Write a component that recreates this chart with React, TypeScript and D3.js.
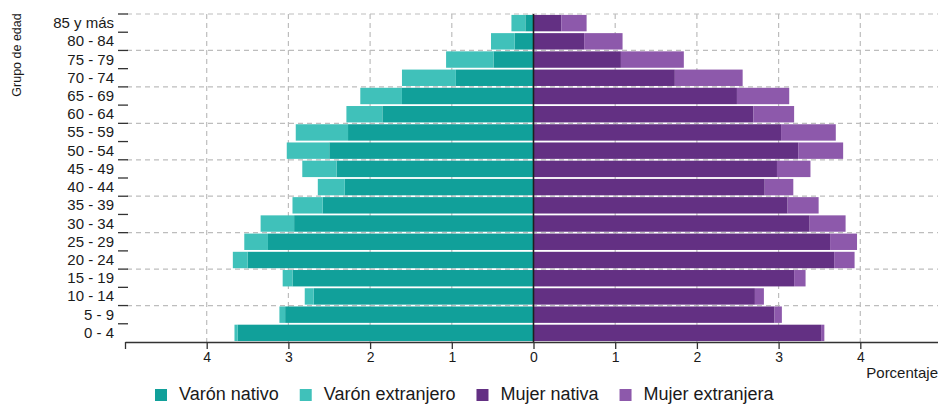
import React, { useRef, useEffect } from 'react'
import * as d3 from 'd3'

// grupos de edad, de abajo hacia arriba
const grupos = ['0 - 4', '5 - 9', '10 - 14', '15 - 19', '20 - 24', '25 - 29', '30 - 34', '35 - 39', '40 - 44',
  '45 - 49', '50 - 54', '55 - 59', '60 - 64', '65 - 69', '70 - 74', '75 - 79', '80 - 84', '85 y más']

const varonNativo = [3.62, 3.04, 2.69, 2.95, 3.50, 3.25, 2.93, 2.58, 2.31, 2.41, 2.50, 2.27, 1.85, 1.61, 0.95, 0.49, 0.23, 0.10]
const varonExtranjero = [0.04, 0.07, 0.11, 0.12, 0.18, 0.29, 0.41, 0.37, 0.33, 0.42, 0.52, 0.64, 0.44, 0.51, 0.66, 0.58, 0.29, 0.17]
const mujerNativa = [3.52, 2.95, 2.71, 3.19, 3.68, 3.63, 3.38, 3.11, 2.83, 2.98, 3.24, 3.03, 2.69, 2.49, 1.73, 1.07, 0.62, 0.34]
const mujerExtranjera = [0.04, 0.09, 0.11, 0.14, 0.25, 0.33, 0.44, 0.38, 0.35, 0.41, 0.55, 0.67, 0.50, 0.64, 0.83, 0.77, 0.47, 0.31]

const xTicks = [-5, -4, -3, -2, -1, 0, 1, 2, 3, 4, 5]
const series = ['Varón nativo', 'Varón extranjero', 'Mujer nativa', 'Mujer extranjera']
const colores = ['#11a09a', '#40c1ba', '#633083', '#8d59ab']

const App = () => {
  const ref = useRef<SVGSVGElement>(null)

  useEffect(() => {
    const w = 938
    const h = 404
    const font = '"Liberation Sans", Arial, sans-serif'
    const svg = d3.select(ref.current)
      .attr('width', w)
      .attr('height', h)
      .style('font-family', font)
    svg.selectAll('*').remove()

    const x = d3.scaleLinear().domain([-5, 5]).range([125, 942])
    const y = d3.scaleBand<string>()
      .domain(grupos.slice().reverse())
      .range([14, 342])
      .paddingInner(0.1)
      .paddingOuter(0.05)
    const step = y.step()
    const top = 14
    const bottom = 342

    // grid
    const grid = svg.append('g')
    grid.selectAll('.gx')
      .data(xTicks.filter(d => d !== 0 && Math.abs(d) < 5))
      .enter().append('line')
      .attr('x1', d => x(d)).attr('x2', d => x(d))
      .attr('y1', top).attr('y2', bottom)
      .style('stroke', '#bdbdbd')
      .style('stroke-width', 1.2)
      .style('stroke-dasharray', '5,4')
    grid.selectAll('.gy')
      .data(d3.range(0, 18, 2))
      .enter().append('line')
      .attr('x1', 127).attr('x2', w)
      .attr('y1', i => top + i * step).attr('y2', i => top + i * step)
      .style('stroke', '#bdbdbd')
      .style('stroke-width', 1.2)
      .style('stroke-dasharray', '5,4')

    // bars
    const bars = svg.append('g')
    const bh = y.bandwidth()
    grupos.forEach((g, i) => {
      const yy = y(g) as number
      const vn = varonNativo[i]
      const ve = varonExtranjero[i]
      const mn = mujerNativa[i]
      const me = mujerExtranjera[i]
      bars.append('rect').attr('x', x(-vn)).attr('y', yy).attr('width', x(0) - x(-vn)).attr('height', bh).attr('fill', colores[0])
      bars.append('rect').attr('x', x(-vn - ve)).attr('y', yy).attr('width', x(-vn) - x(-vn - ve)).attr('height', bh).attr('fill', colores[1])
      bars.append('rect').attr('x', x(0)).attr('y', yy).attr('width', x(mn) - x(0)).attr('height', bh).attr('fill', colores[2])
      bars.append('rect').attr('x', x(mn)).attr('y', yy).attr('width', x(mn + me) - x(mn)).attr('height', bh).attr('fill', colores[3])
    })

    // zero line
    svg.append('line')
      .attr('x1', x(0)).attr('x2', x(0))
      .attr('y1', top).attr('y2', bottom)
      .style('stroke', '#1f1f1f')
      .style('stroke-width', 1.6)

    // y ticks at band boundaries
    svg.append('g').selectAll('line')
      .data(d3.range(0, 18))
      .enter().append('line')
      .attr('x1', 118).attr('x2', 128)
      .attr('y1', i => top + i * step).attr('y2', i => top + i * step)
      .style('stroke', '#333')
      .style('stroke-width', 1.3)

    svg.append('g').selectAll('text')
      .data(grupos)
      .enter().append('text')
      .attr('x', 114)
      .attr('y', d => (y(d) as number) + bh / 2 + 5)
      .attr('text-anchor', 'end')
      .style('font-size', '15px')
      .style('fill', '#1a1a1a')
      .text(d => d)

    // x axis
    const xAxis = d3.axisBottom(x)
      .tickValues(xTicks)
      .tickFormat(d => (Math.abs(+d) === 5 ? '' : String(Math.abs(+d))))
      .tickSizeInner(7)
      .tickSizeOuter(0)
      .tickPadding(3)
    const ax = svg.append('g')
      .attr('transform', `translate(0, ${bottom})`)
      .call(xAxis)
    ax.select('.domain').style('stroke', '#333').style('stroke-width', 1.3)
    ax.selectAll('line').style('stroke', '#333').style('stroke-width', 1.3)
    ax.selectAll('text')
      .style('font-size', '14px')
      .style('font-family', font)
      .style('fill', '#1a1a1a')

    svg.append('text')
      .attr('x', 938)
      .attr('y', 378)
      .attr('text-anchor', 'end')
      .style('font-size', '15px')
      .style('fill', '#1a1a1a')
      .text('Porcentaje')

    svg.append('text')
      .attr('transform', 'translate(21, 55) rotate(-90)')
      .attr('text-anchor', 'middle')
      .style('font-size', '12.5px')
      .style('fill', '#1a1a1a')
      .text('Grupo de edad')

    // legend
    const legend = svg.append('g')
    let lx = 155
    series.forEach((s, i) => {
      legend.append('rect')
        .attr('x', lx).attr('y', 389)
        .attr('width', 12).attr('height', 12)
        .attr('fill', colores[i])
      const t = legend.append('text')
        .attr('x', lx + 24)
        .attr('y', 400)
        .style('font-size', '18px')
        .style('fill', '#1a1a1a')
        .text(s)
      const tw = (t.node() as SVGTextElement).getComputedTextLength()
      lx += 24 + tw + 21
    })
  }, [])

  return (
    <div style={{ position: 'absolute', left: 0, top: 0 }}>
      <svg ref={ref} style={{ display: 'block' }}></svg>
    </div>
  )
}

export default App
